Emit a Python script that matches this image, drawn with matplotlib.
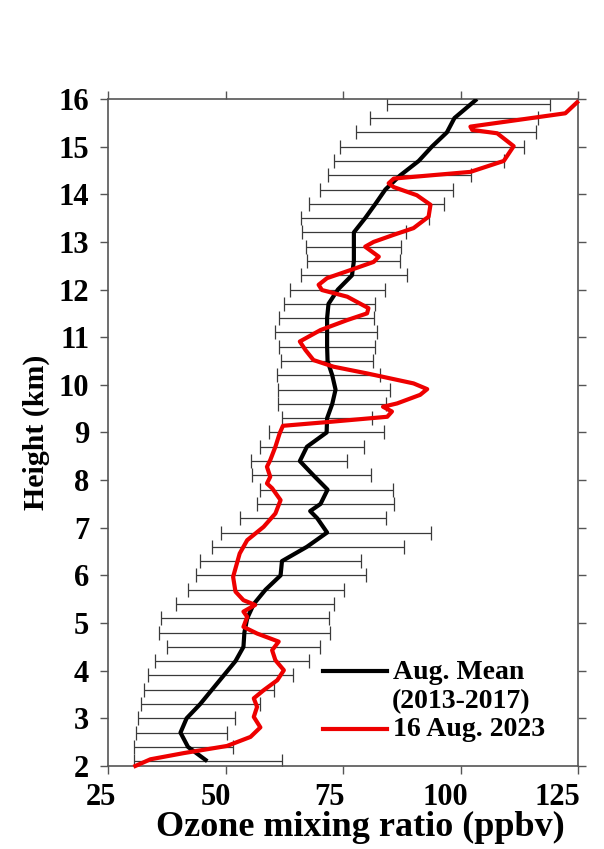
import numpy as np
import matplotlib
matplotlib.use("Agg")
import matplotlib.pyplot as plt
import matplotlib.transforms as mtransforms
from matplotlib.lines import Line2D

plt.rcParams['font.family'] = ['Liberation Serif', 'DejaVu Serif']
plt.rcParams['font.weight'] = 'bold'

# August climatology (2013-2017): error bars every 0.3 km
bar_heights = np.round(np.arange(2.1, 15.95, 0.3), 1)
bar_low = [30.5, 30.6, 30.9, 31.3, 31.9, 32.6, 33.4, 34.9, 37.6, 35.8,
           36.3, 39.5, 42.0, 43.8, 44.6, 47.1, 49.0, 53.0, 56.6, 57.4,
           55.6, 55.5, 57.3, 59.2, 61.9, 61.2, 61.1, 61.0, 61.7, 61.4,
           60.5, 61.4, 62.4, 63.8, 66.0, 67.3, 67.2, 66.2, 66.1, 67.8,
           70.0, 71.7, 73.1, 74.3, 77.8, 80.7, 84.4]
bar_high = [62.0, 51.6, 50.2, 52.1, 57.3, 60.2, 64.4, 67.7, 70.0, 72.3,
            72.1, 73.1, 75.3, 79.9, 78.9, 87.9, 93.7, 84.1, 85.9, 85.6,
            81.0, 75.9, 79.4, 83.8, 81.2, 84.2, 84.9, 82.9, 81.4, 81.7,
            82.2, 81.5, 81.9, 83.9, 88.5, 87.2, 87.4, 88.3, 93.2, 96.5,
            98.3, 102.3, 109.2, 113.4, 116.1, 116.5, 119.1]

# mean profile
mean_h = [2.1, 2.4, 2.7, 3.0, 3.3, 3.6, 3.9, 4.2, 4.5, 4.8, 5.1, 5.4, 5.7,
          6.0, 6.3, 6.6, 6.9, 7.2, 7.35, 7.5, 7.8, 8.1, 8.4, 8.7, 9.0, 9.3,
          9.6, 9.9, 10.2, 10.5, 10.8, 11.1, 11.4, 11.7, 12.0, 12.3, 12.6,
          12.9, 13.2, 13.5, 13.8, 14.1, 14.4, 14.7, 15.0, 15.3, 15.6, 15.9,
          16.0]
mean_o3 = [46.1, 42.0, 40.4, 41.7, 44.6, 47.1, 49.6, 52.1, 53.8, 54.0, 54.6,
           56.0, 58.5, 61.7, 62.0, 67.3, 71.6, 69.5, 68.0, 70.2, 71.7, 68.7,
           65.8, 67.3, 71.5, 71.6, 72.7, 73.4, 72.7, 71.7, 71.6, 71.6, 71.6,
           71.9, 73.9, 76.9, 77.3, 77.3, 77.3, 79.7, 81.9, 84.0, 87.2, 91.1,
           93.9, 97.1, 98.7, 102.3, 103.5]

# ozonesonde profile, 16 Aug 2023
sonde_h = [2.00, 2.14, 2.27, 2.42, 2.61, 2.81, 3.03, 3.24, 3.42, 3.59, 3.80,
           4.01, 4.22, 4.43, 4.61, 4.78, 4.92, 5.13, 5.24, 5.38, 5.48, 5.66,
           5.97, 6.25, 6.46, 6.74, 7.02, 7.30, 7.58, 7.83, 7.93, 8.07, 8.28,
           8.42, 8.70, 8.98, 9.14, 9.23, 9.33, 9.44, 9.54, 9.61, 9.79, 9.91,
           10.03, 10.24, 10.38, 10.52, 10.73, 10.91, 11.15, 11.36, 11.50,
           11.61, 11.85, 11.99, 12.10, 12.24, 12.41, 12.58, 12.69, 12.90,
           13.00, 13.15, 13.29, 13.53, 13.78, 13.98, 14.15, 14.23, 14.33,
           14.47, 14.70, 15.01, 15.28, 15.35, 15.42, 15.70, 15.93]
sonde_o3 = [30.8, 34.0, 41.1, 50.3, 55.3, 57.4, 56.0, 56.7, 56.0, 58.1, 61.0,
            62.4, 60.6, 59.9, 61.3, 56.7, 53.8, 54.6, 53.8, 56.3, 53.8, 52.1,
            51.6, 52.4, 53.0, 54.6, 58.1, 60.6, 61.7, 59.9, 58.8, 59.5, 58.8,
            59.5, 60.6, 61.5, 62.2, 73.0, 84.4, 85.4, 83.5, 86.5, 91.4, 92.9,
            90.0, 80.1, 73.0, 68.7, 67.0, 65.8, 70.2, 75.9, 80.1,
            80.4, 75.9, 70.5, 69.8, 71.6, 76.6, 81.5, 82.6, 79.7,
            81.5, 85.8, 90.0, 93.2, 93.6, 90.7, 85.8, 84.7, 85.8,
            102.1, 109.2, 111.3, 107.8, 102.5, 102.1, 122.3, 124.8]

xticks = [25, 50, 75, 100, 125]

fig = plt.figure(figsize=(6.04, 8.49), dpi=100)
ax = fig.add_axes([0.179, 0.0978, 0.778, 0.7856])

lo = np.array(bar_low)
hi = np.array(bar_high)
centre = (lo + hi) / 2
ax.errorbar(centre, bar_heights, xerr=(hi - lo) / 2, fmt='none',
            ecolor='#3a3a3a', elinewidth=0.9, capsize=5, capthick=0.9, zorder=1)

ax.plot(mean_o3, mean_h, color='black', lw=3.0, solid_capstyle='butt', zorder=3)
ax.plot(sonde_o3, sonde_h, color='#ee0000', lw=3.0, zorder=4, clip_on=False)

ax.set_xlim(25, 125)
ax.set_ylim(2, 16)
ax.set_xticks(xticks)
ax.set_yticks(range(2, 17))

for sp in ax.spines.values():
    sp.set_color('#555555')
    sp.set_linewidth(1.2)
ax.tick_params(which='both', direction='out', length=5.5, width=1.0, color='#555555',
               top=True, right=True, labelsize=22)
ax.tick_params(axis='x', pad=7)
ax.tick_params(axis='y', pad=8)

# x tick labels sit a little left of their ticks, more so towards the right
for lbl, dx in zip(ax.get_xticklabels(), [-7, -10, -14, -15, -21]):
    lbl.set_transform(lbl.get_transform() +
                      mtransforms.ScaledTranslation(dx / 100, 0, fig.dpi_scale_trans))

ax.set_xlabel('Ozone mixing ratio (ppbv)', fontsize=26, fontweight='bold')
ax.xaxis.set_label_coords(0.536, -0.092, transform=ax.transAxes)
ax.xaxis.label.set_va('center')
ax.set_ylabel('Height (km)', fontsize=21.5, fontweight='bold', labelpad=6)

# legend drawn by hand so each line sits next to the first text row
ax.add_line(Line2D([0.457, 0.594], [0.142, 0.142], transform=ax.transAxes,
                   color='black', lw=3.0))
ax.add_line(Line2D([0.457, 0.594], [0.0555, 0.0555], transform=ax.transAxes,
                   color='#ee0000', lw=3.0))
ax.text(0.606, 0.140, 'Aug. Mean', transform=ax.transAxes, fontsize=20,
        fontweight='bold', va='center', ha='left')
ax.text(0.604, 0.096, '(2013-2017)', transform=ax.transAxes, fontsize=20,
        fontweight='bold', va='center', ha='left')
ax.text(0.606, 0.054, '16 Aug. 2023', transform=ax.transAxes, fontsize=20,
        fontweight='bold', va='center', ha='left')

fig.savefig('out.png', dpi=100)
